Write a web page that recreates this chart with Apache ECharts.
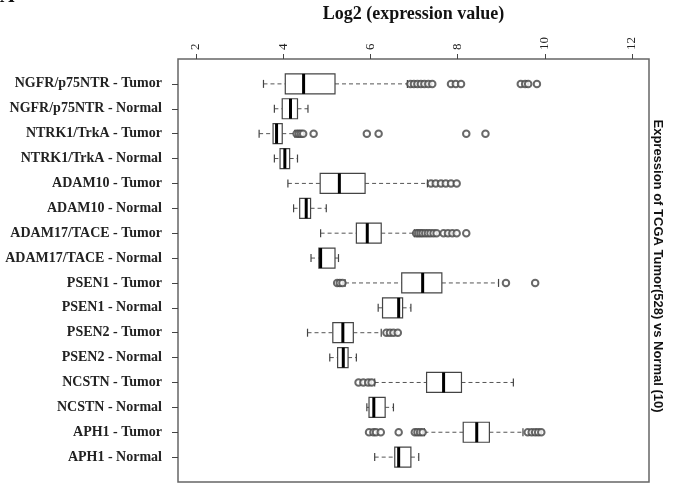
<!DOCTYPE html>
<html><head><meta charset="utf-8">
<script src="https://cdn.jsdelivr.net/npm/echarts@6/dist/echarts.min.js"></script>
<style>html,body{margin:0;padding:0;background:#fff}#c{width:674px;height:489px}</style>
</head><body><div id="c"></div>
<script>
const categories = [
  'NGFR/p75NTR - Tumor','NGFR/p75NTR - Normal','NTRK1/TrkA - Tumor','NTRK1/TrkA - Normal',
  'ADAM10 - Tumor','ADAM10 - Normal','ADAM17/TACE - Tumor','ADAM17/TACE - Normal',
  'PSEN1 - Tumor','PSEN1 - Normal','PSEN2 - Tumor','PSEN2 - Normal',
  'NCSTN - Tumor','NCSTN - Normal','APH1 - Tumor','APH1 - Normal'
];
const mins    = [3.55,3.80,3.45,3.80,4.11,4.24,4.86,4.64,5.42,6.18,4.56,5.07,6.10,5.92,7.24,6.10];
const q1s     = [4.05,3.98,3.77,3.93,4.85,4.38,5.68,4.82,6.72,6.28,5.14,5.25,7.29,5.97,8.13,6.56];
const medians = [4.47,4.17,3.85,4.04,5.29,4.53,5.93,4.86,7.20,6.65,5.37,5.38,7.68,6.08,8.44,6.65];
const q3s     = [5.19,4.33,3.98,4.15,5.88,4.63,6.25,5.19,7.64,6.74,5.61,5.49,8.09,6.34,8.73,6.93];
const maxs    = [6.85,4.57,4.27,4.33,7.31,4.99,7.01,5.27,8.94,6.93,6.25,5.68,9.28,6.53,9.50,7.11];
const outliers = [
  [6.92,7.00,7.08,7.16,7.24,7.33,7.42,7.85,7.96,8.08,9.45,9.55,9.62,9.82],
  [],
  [4.31,4.36,4.41,4.46,4.70,5.92,6.19,8.20,8.64],
  [],
  [7.39,7.50,7.62,7.73,7.85,7.98],
  [],
  [7.05,7.10,7.15,7.20,7.26,7.32,7.38,7.45,7.52,7.68,7.78,7.88,7.98,8.20],
  [],
  [5.24,5.30,5.36,9.11,9.78],
  [],
  [6.37,6.45,6.53,6.63],
  [],
  [5.73,5.84,5.95,6.03],
  [],
  [5.97,6.07,6.13,6.24,6.65,7.02,7.08,7.14,7.20,9.61,9.70,9.78,9.85,9.92],
  []
];
const xTicks = [2,4,6,8,10,12];
const xTitle = 'Log2 (expression value)';
const sideTitle = 'Expression of TCGA Tumor(528) vs Normal (10)';

const axisCats = [' '].concat(categories, ['  ']);
const boxData = categories.map((c,i)=>[mins[i],q1s[i],medians[i],q3s[i],maxs[i],i+1]);
const outData = [];
outliers.forEach((arr,i)=>arr.forEach(v=>outData.push([v,i+1])));

const chart = echarts.init(document.getElementById('c'), null, {renderer:'canvas'});
chart.setOption({
  animation:false,
  backgroundColor:'#fff',
  grid:{left:178,right:25,top:55,bottom:4,show:true,borderColor:'#666',borderWidth:1.5,backgroundColor:'transparent'},
  xAxis:{
    type:'value',position:'top',min:1.59,max:12.39,
    name:xTitle,nameLocation:'middle',nameGap:36,
    nameTextStyle:{fontFamily:'Liberation Serif',fontWeight:'bold',fontSize:18,color:'#111'},
    splitLine:{show:false},axisLine:{show:false},
    axisTick:{show:true,length:5,customValues:xTicks,lineStyle:{color:'#444'}},
    axisLabel:{customValues:xTicks,rotate:-90,margin:9,fontFamily:'Liberation Serif',fontSize:13,color:'#222'}
  },
  yAxis:{
    type:'category',data:axisCats,inverse:true,boundaryGap:false,
    axisLine:{show:false},
    axisTick:{show:true,length:6,interval:(i)=>i>0&&i<17,lineStyle:{color:'#444'}},
    axisLabel:{interval:0,margin:16,fontFamily:'Liberation Serif',fontWeight:'bold',fontSize:14,color:'#222'},
    splitLine:{show:false}
  },
  graphic:[
    {type:'text',x:658,y:266,rotation:-Math.PI/2,style:{text:sideTitle,font:'bold 13px "Liberation Sans"',fill:'#111',textAlign:'center',textVerticalAlign:'middle'}},
    {type:'text',x:0,y:-13,style:{text:'A',font:'bold 20px "Liberation Serif"',fill:'#111'}}
  ],
  series:[
    {
      type:'custom',
      data:boxData,
      encode:{x:[0,1,2,3,4],y:5},
      renderItem:function(params,api){
        const y = api.value(5);
        const pMin = api.coord([api.value(0),y]);
        const pQ1 = api.coord([api.value(1),y]);
        const pMed = api.coord([api.value(2),y]);
        const pQ3 = api.coord([api.value(3),y]);
        const pMax = api.coord([api.value(4),y]);
        const cy = pMed[1];
        const h = 20, ch = 8;
        const dash = {stroke:'#555',lineWidth:1,lineDash:[4,3]};
        return {type:'group',children:[
          {type:'line',shape:{x1:pMin[0],y1:cy,x2:pQ1[0],y2:cy},style:dash},
          {type:'line',shape:{x1:pQ3[0],y1:cy,x2:pMax[0],y2:cy},style:dash},
          {type:'line',shape:{x1:pMin[0],y1:cy-ch/2,x2:pMin[0],y2:cy+ch/2},style:{stroke:'#444',lineWidth:1.2}},
          {type:'line',shape:{x1:pMax[0],y1:cy-ch/2,x2:pMax[0],y2:cy+ch/2},style:{stroke:'#444',lineWidth:1.2}},
          {type:'rect',shape:{x:pQ1[0],y:cy-h/2,width:pQ3[0]-pQ1[0],height:h},style:{fill:'#fff',stroke:'#444',lineWidth:1.2}},
          {type:'line',shape:{x1:pMed[0],y1:cy-h/2,x2:pMed[0],y2:cy+h/2},style:{stroke:'#000',lineWidth:3}}
        ]};
      },
      z:2
    },
    {
      type:'scatter',data:outData,symbol:'emptyCircle',symbolSize:6.5,
      itemStyle:{color:'#444',borderColor:'#444',borderWidth:1},z:3
    }
  ]
});
</script></body></html>
